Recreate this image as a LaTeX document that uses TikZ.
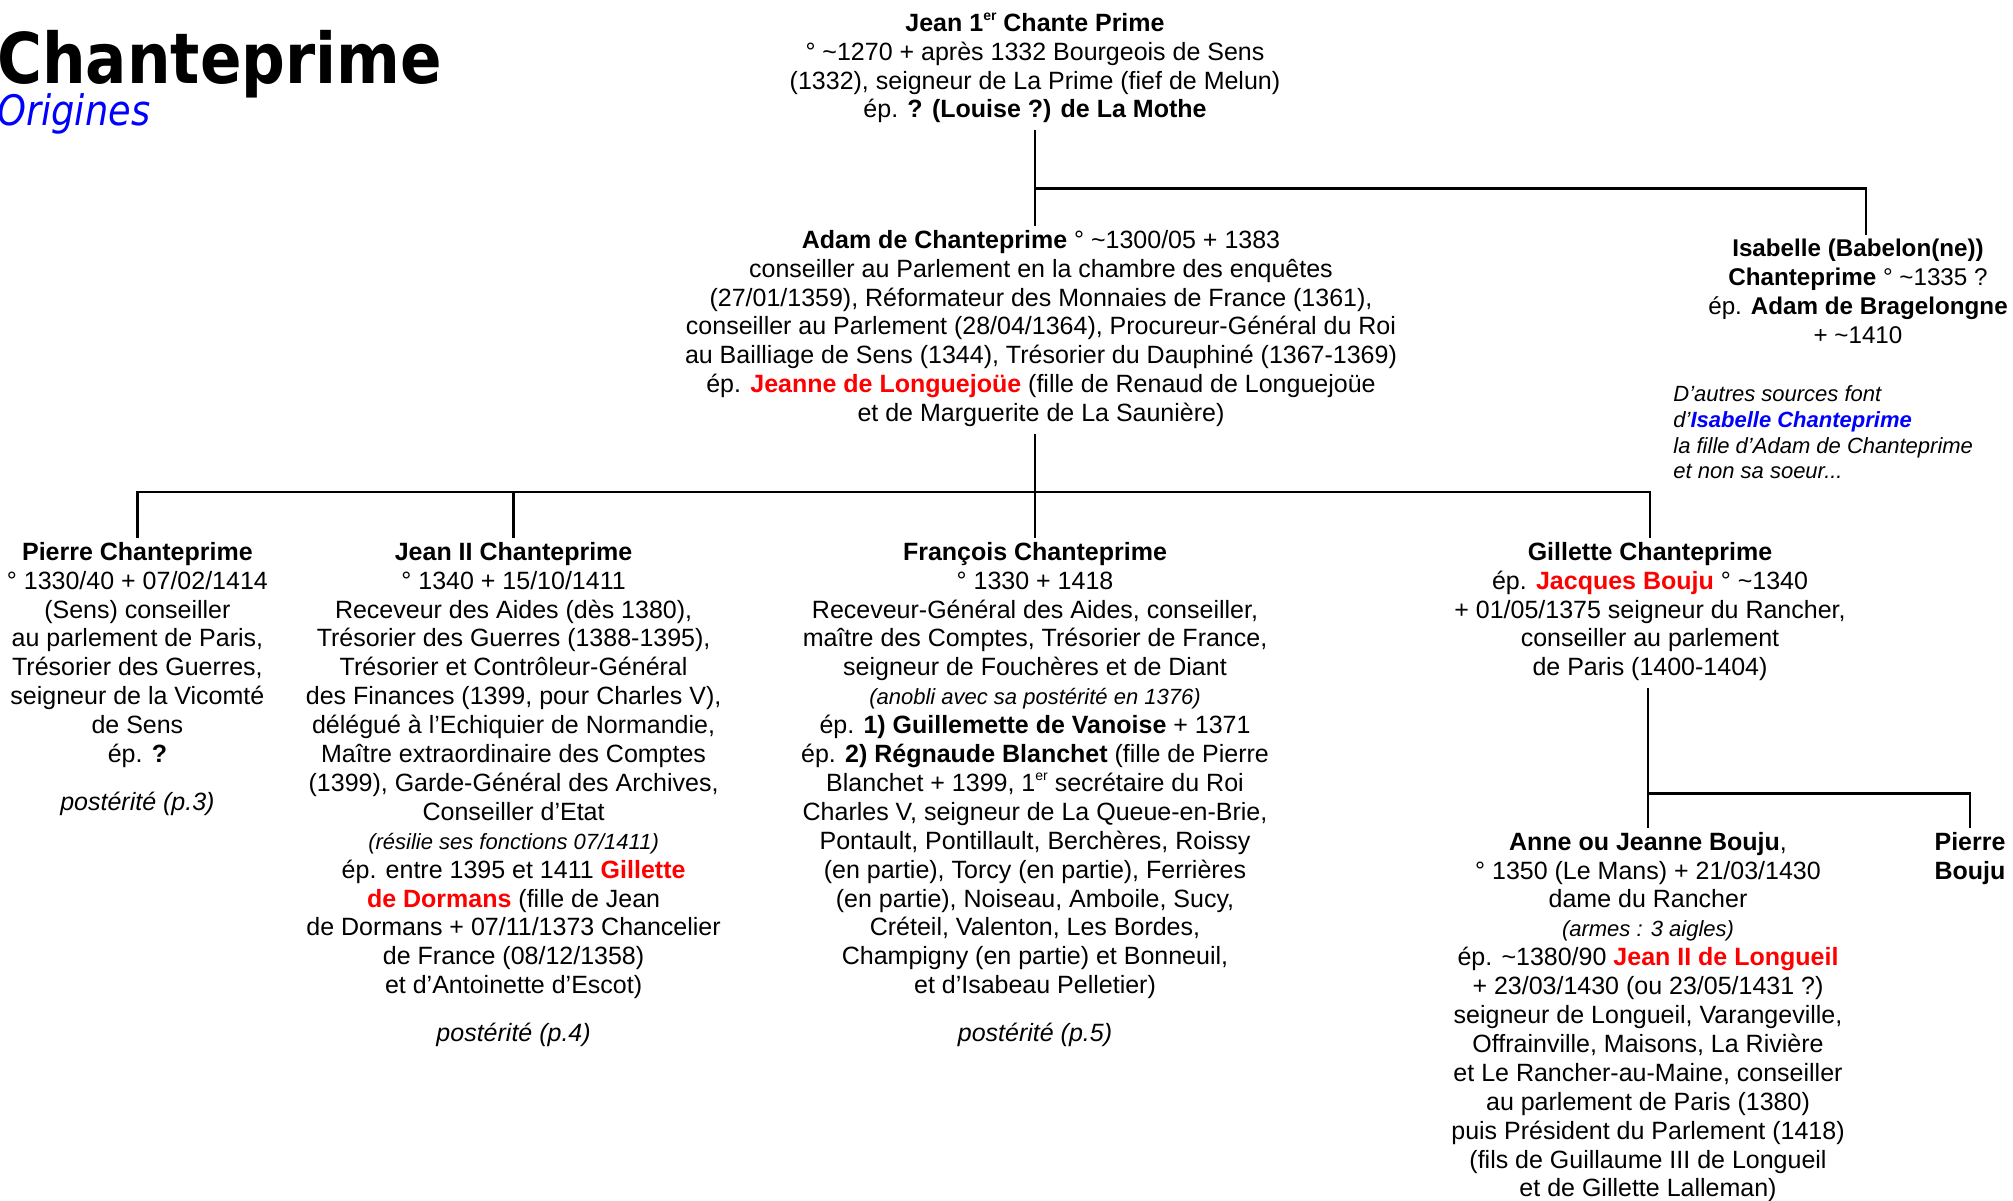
\documentclass[tikz,border=0pt]{standalone}
\usepackage{fontspec}
\setmainfont{Liberation Sans}
\newfontfamily\titlefont[FakeStretch=0.875]{DejaVu Sans}
\definecolor{rouge}{RGB}{255,0,0}
\definecolor{bleu}{RGB}{0,0,255}
\newcommand\apx{\textasciitilde}
\newcommand\smallit{\fontsize{11}{14.45}\selectfont\itshape}
\newcommand\exposant[1]{\raisebox{0.42em}{\fontsize{7}{7}\selectfont #1}}
\tikzset{
  person/.style={anchor=north, align=center, inner sep=0pt, outer ysep=2.5pt,
    font=\fontsize{12.5}{14.45}\selectfont,
    execute at begin node=\strut, execute at end node=\strut},
  conn/.style={line width=1.3pt, line cap=rect},
}
\begin{document}
\begin{tikzpicture}[x=0.5pt,y=-0.5pt]
\useasboundingbox (0,0) rectangle (2013,1200);
\fill[white] (0,0) rectangle (2013,1200);

% title
\node[anchor=base west, inner sep=0pt] (title) at (-3,83.5)
  {\titlefont\bfseries\fontsize{35}{40}\selectfont Chanteprime};
\node[anchor=base west, inner sep=0pt, text=bleu] (subtitle) at (-3,125)
  {\titlefont\itshape\fontsize{21}{24}\selectfont Origines};

% persons
\node[person] (jean1) at (1035,8.1) {%
{\bfseries Jean 1\exposant{er} Chante Prime}\\
° \apx1270 + après 1332 Bourgeois de Sens\\
(1332), seigneur de La Prime (fief de Melun)\\
ép. {\bfseries ? (Louise ?) de La Mothe}};

\node[person] (adam) at (1041,225.1) {%
{\bfseries Adam de Chanteprime} ° \apx1300/05 + 1383\\
conseiller au Parlement en la chambre des enquêtes\\
(27/01/1359), Réformateur des Monnaies de France (1361),\\
conseiller au Parlement (28/04/1364), Procureur-Général du Roi\\
au Bailliage de Sens (1344), Trésorier du Dauphiné (1367-1369)\\
ép. {\bfseries\color{rouge}Jeanne de Longuejoüe} (fille de Renaud de Longuejoüe\\
et de Marguerite de La Saunière)};

\node[person, font=\fontsize{12.1}{14.45}\selectfont] (isabelle) at (1858,234.1) {%
{\bfseries Isabelle (Babelon(ne))}\\
{\bfseries Chanteprime} ° \apx1335 ?\\
ép. {\bfseries Adam de Bragelongne}\\
+ \apx1410};

\node[anchor=north west, align=left, inner sep=0pt,
  font=\fontsize{11}{12.85}\selectfont\itshape] (note) at (1673,383.2) {%
\strut D’autres sources font\\
d’{\bfseries\color{bleu}Isabelle Chanteprime}\\
la fille d’Adam de Chanteprime\\
et non sa soeur...\strut};

\node[person] (pierre) at (137.4,537.1) {%
{\bfseries Pierre Chanteprime}\\
° 1330/40 + 07/02/1414\\
(Sens) conseiller\\
au parlement de Paris,\\
Trésorier des Guerres,\\
seigneur de la Vicomté\\
de Sens\\
ép. {\bfseries ?}\\[9.3pt]
{\itshape postérité (p.3)}};

\node[person] (jean2) at (513.6,537.1) {%
{\bfseries Jean II Chanteprime}\\
° 1340 + 15/10/1411\\
Receveur des Aides (dès 1380),\\
Trésorier des Guerres (1388-1395),\\
Trésorier et Contrôleur-Général\\
des Finances (1399, pour Charles V),\\
délégué à l’Echiquier de Normandie,\\
Maître extraordinaire des Comptes\\
(1399), Garde-Général des Archives,\\
Conseiller d’Etat\\
{\smallit (résilie ses fonctions 07/1411)}\\
ép. entre 1395 et 1411 {\bfseries\color{rouge}Gillette}\\
{\bfseries\color{rouge}de Dormans} (fille de Jean\\
de Dormans + 07/11/1373 Chancelier\\
de France (08/12/1358)\\
et d’Antoinette d’Escot)\\[9.3pt]
{\itshape postérité (p.4)}};

\node[person] (francois) at (1035,537.1) {%
{\bfseries François Chanteprime}\\
° 1330 + 1418\\
Receveur-Général des Aides, conseiller,\\
maître des Comptes, Trésorier de France,\\
seigneur de Fouchères et de Diant\\
{\smallit (anobli avec sa postérité en 1376)}\\
ép. {\bfseries 1) Guillemette de Vanoise} + 1371\\
ép. {\bfseries 2) Régnaude Blanchet} (fille de Pierre\\
Blanchet + 1399, 1\exposant{er} secrétaire du Roi\\
Charles V, seigneur de La Queue-en-Brie,\\
Pontault, Pontillault, Berchères, Roissy\\
(en partie), Torcy (en partie), Ferrières\\
(en partie), Noiseau, Amboile, Sucy,\\
Créteil, Valenton, Les Bordes,\\
Champigny (en partie) et Bonneuil,\\
et d’Isabeau Pelletier)\\[9.3pt]
{\itshape postérité (p.5)}};

\node[person] (gillette) at (1650,537.1) {%
{\bfseries Gillette Chanteprime}\\
ép. {\bfseries\color{rouge}Jacques Bouju} ° \apx1340\\
+ 01/05/1375 seigneur du Rancher,\\
conseiller au parlement\\
de Paris (1400-1404)};

\node[person] (anne) at (1648,827) {%
{\bfseries Anne ou Jeanne Bouju},\\
° 1350 (Le Mans) + 21/03/1430\\
dame du Rancher\\
{\smallit (armes : 3 aigles)}\\
ép. \apx1380/90 {\bfseries\color{rouge}Jean II de Longueil}\\
+ 23/03/1430 (ou 23/05/1431 ?)\\
seigneur de Longueil, Varangeville,\\
Offrainville, Maisons, La Rivière\\
et Le Rancher-au-Maine, conseiller\\
au parlement de Paris (1380)\\
puis Président du Parlement (1418)\\
(fils de Guillaume III de Longueil\\
et de Gillette Lalleman)};

\node[person] (pbouju) at (1970,827) {%
{\bfseries Pierre}\\
{\bfseries Bouju}};

% junctions
\coordinate (j1) at (1035,188.7);
\coordinate (sib) at (1035,491.8);
\coordinate (gb) at (1648,793.5);

% connectors
\draw[conn] (jean1.south) -- (jean1.south |- adam.north);
\draw[conn] (j1) -| ([xshift=4pt]isabelle.north);
\draw[conn] (adam.south -| francois.north) -- (francois.north);
\draw[conn] (pierre.north) |- (sib) -| (gillette.north);
\draw[conn] (jean2.north) -- (jean2.north |- sib);
\draw[conn] (gillette.south -| anne.north) -- (anne.north);
\draw[conn] (gb) -| (pbouju.north);
\end{tikzpicture}
\end{document}
